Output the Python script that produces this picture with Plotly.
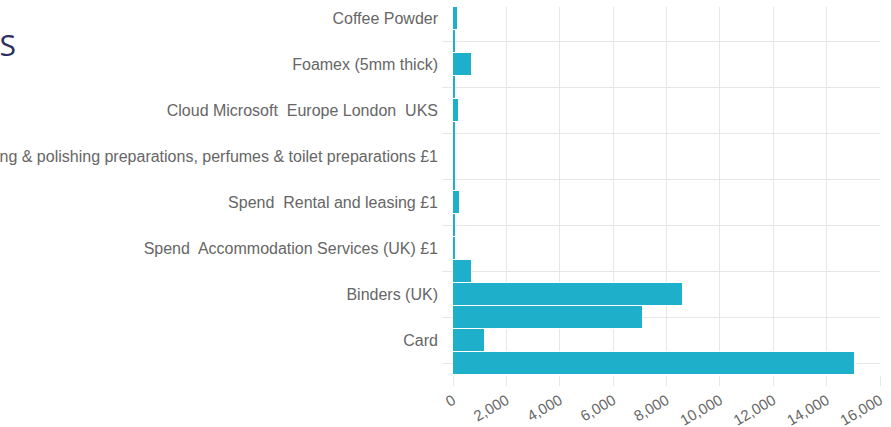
import plotly.graph_objects as go

# Item labels shown on the category axis (every second row is labelled)
labels = [
    "Coffee Powder",
    "Foamex (5mm thick)",
    "Cloud Microsoft  Europe London  UKS",
    "Spend  Soap and detergents, cleaning & polishing preparations, perfumes & toilet preparations £1",
    "Spend  Rental and leasing £1",
    "Spend  Accommodation Services (UK) £1",
    "Binders (UK)",
    "Card",
]

# Spend per row, top to bottom
spend = [170, 50, 700, 50, 225, 45, 45, 45, 275, 110, 70, 712, 8615, 7131, 1200, 15045]

x_ticks = [0, 2000, 4000, 6000, 8000, 10000, 12000, 14000, 16000]

title_text = "TOP PRODUCTS"

BAR = "#1eafcb"
GRID = "#e6e6e6"
TEXT = "#666666"

rows = list(range(len(spend)))
# keep the double spaces inside labels visible
shown = [s.replace("  ", "\u00a0 ") for s in labels]

fig = go.Figure(
    go.Bar(
        x=spend,
        y=rows,
        orientation="h",
        marker=dict(
            color=BAR,
            line=dict(color="white", width=[1 if v >= 100 else 0 for v in spend]),
        ),
        hoverinfo="x",
    )
)

fig.update_layout(
    width=891,
    height=427,
    margin=dict(l=453, r=11, t=7, b=52),
    paper_bgcolor="white",
    plot_bgcolor="white",
    bargap=0,
    showlegend=False,
    title=dict(
        text=title_text,
        xref="container",
        yref="container",
        x=16 / 891,
        xanchor="right",
        y=1 - 45 / 427,
        yanchor="middle",
        font=dict(family="Open Sans", size=30, color="#2e2f5f"),
    ),
    xaxis=dict(
        range=[0, 16000],
        tickmode="array",
        tickvals=x_ticks,
        tickformat=",",
        tickangle=-30,
        showgrid=True,
        gridcolor=GRID,
        gridwidth=1,
        zeroline=False,
        showline=False,
        ticks="outside",
        ticklen=10,
        tickcolor=GRID,
        tickfont=dict(family="Liberation Sans", size=15, color=TEXT),
        automargin=False,
    ),
    yaxis=dict(
        range=[len(spend) - 0.5, -0.5],
        tickmode="array",
        tickvals=rows[::2],
        ticktext=shown,
        showgrid=False,
        zeroline=False,
        showline=False,
        ticks="",
        ticklabelstandoff=14,
        tickfont=dict(family="Liberation Sans", size=16, color=TEXT),
        minor=dict(
            tickmode="array",
            tickvals=rows[1::2],
            showgrid=True,
            gridcolor=GRID,
            gridwidth=1,
            ticks="outside",
            ticklen=10,
            tickcolor=GRID,
        ),
        automargin=False,
    ),
)

fig.write_html("out.html")
